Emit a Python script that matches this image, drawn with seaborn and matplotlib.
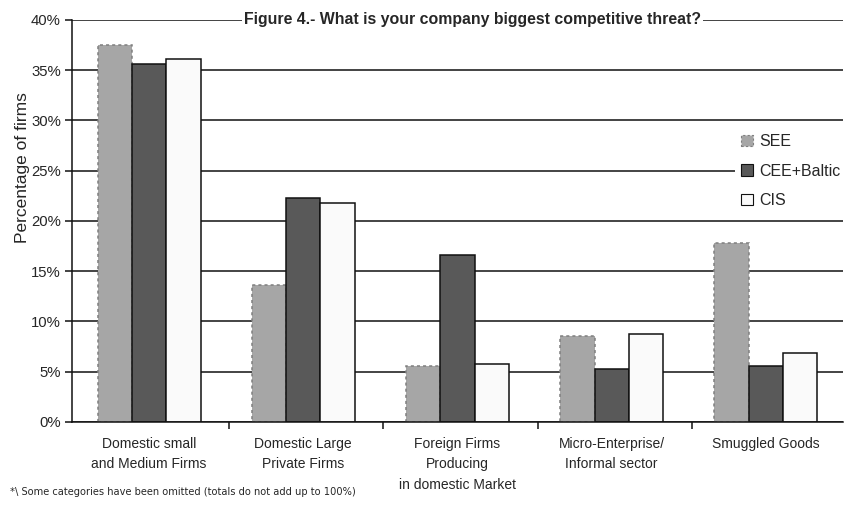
import matplotlib
matplotlib.use("Agg")
import matplotlib.pyplot as plt
import seaborn as sns
import pandas as pd
from matplotlib.patches import Patch
from matplotlib.ticker import FixedLocator, FuncFormatter

categories = [
    "Domestic small\nand Medium Firms",
    "Domestic Large\nPrivate Firms",
    "Foreign Firms\nProducing\nin domestic Market",
    "Micro-Enterprise/\nInformal sector",
    "Smuggled Goods",
]
regions = ["SEE", "CEE+Baltic", "CIS"]
see = [37.5, 13.6, 5.6, 8.6, 17.8]
cee_baltic = [35.6, 22.3, 16.6, 5.3, 5.55]
cis = [36.1, 21.8, 5.8, 8.8, 6.85]

title = "Figure 4.- What is your company biggest competitive threat?"
footnote = "*\\ Some categories have been omitted (totals do not add up to 100%)"

df = pd.DataFrame({
    "category": categories * 3,
    "region": [r for r in regions for _ in categories],
    "share": see + cee_baltic + cis,
})

sns.set_style("white")
plt.rcParams["font.family"] = ["Liberation Sans", "DejaVu Sans"]

fills = {"SEE": "#a6a6a6", "CEE+Baltic": "#595959", "CIS": "#fafafa"}
edges = {"SEE": "#7f7f7f", "CEE+Baltic": "#111111", "CIS": "#111111"}
styles = {"SEE": (0, (2, 2)), "CEE+Baltic": "-", "CIS": "-"}

fig = plt.figure(figsize=(8.45, 5.05), dpi=100)
ax = fig.add_axes([0.0852, 0.1644, 0.9124, 0.796])

sns.barplot(data=df, x="category", y="share", hue="region", order=categories,
            hue_order=regions, palette=fills, width=0.667, saturation=1,
            legend=False, ax=ax, zorder=3)

for container, reg in zip(ax.containers, regions):
    for bar in container:
        bar.set_edgecolor(edges[reg])
        bar.set_linewidth(1.1)
        bar.set_linestyle(styles[reg])

ax.set_xlim(-0.5, len(categories) - 0.5)
ax.set_ylim(0, 40)
ax.yaxis.set_major_locator(FixedLocator(range(0, 41, 5)))
ax.yaxis.set_major_formatter(FuncFormatter(lambda v, p: f"{int(v)}%"))
ax.grid(axis="y", color="#111111", linewidth=1.1, zorder=1)
ax.set_axisbelow(True)

for s in ["top", "right"]:
    ax.spines[s].set_visible(False)
for s in ["left", "bottom"]:
    ax.spines[s].set_color("#111111")
    ax.spines[s].set_linewidth(1.1)
    ax.spines[s].set_zorder(4)

ax.tick_params(axis="y", which="major", left=True, length=5, width=1.1,
               color="#111111", labelsize=10.7, pad=3)
ax.tick_params(axis="x", which="major", bottom=False, labelsize=10, pad=7)
ax.set_xticks(range(len(categories)))
ax.set_xticklabels(categories, linespacing=1.6, va="top")
ax.xaxis.set_minor_locator(FixedLocator([i + 0.52 for i in range(len(categories) - 1)]))
ax.tick_params(axis="x", which="minor", bottom=True, length=5, width=1.1,
               color="#111111")

ax.set_xlabel("")
ax.set_ylabel("Percentage of firms", fontsize=12.5)
ax.yaxis.set_label_coords(-0.054, 0.634)

ax.text(0.519, 1.0, title, transform=ax.transAxes, ha="center", va="center",
        fontsize=11.4, fontweight="bold", zorder=5,
        bbox=dict(facecolor="white", edgecolor="none", pad=1.5))

handles = [Patch(facecolor=fills[r], edgecolor=edges[r], linestyle=styles[r],
                 linewidth=0.8) for r in regions]
leg = ax.legend(handles, regions, loc="upper left", bbox_to_anchor=(0.86, 0.733),
                frameon=True, fontsize=11.5, handlelength=0.7, handleheight=0.7,
                handletextpad=0.4, labelspacing=0.93, borderpad=0.4,
                borderaxespad=0)
leg.get_frame().set_facecolor("white")
leg.get_frame().set_edgecolor("none")
leg.get_frame().set_alpha(1)
leg.set_zorder(5)

fig.text(0.012, 0.016, footnote, fontsize=7.1, family="DejaVu Sans",
         ha="left", va="bottom")

fig.savefig("out.png", dpi=100, facecolor="white")
